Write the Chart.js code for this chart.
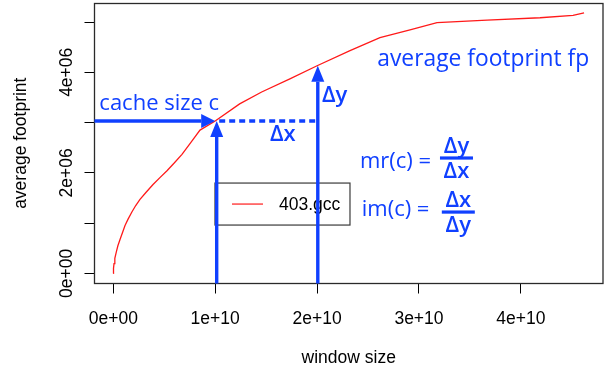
<!DOCTYPE html>
<html>
<head>
<meta charset="utf-8">
<script src="https://cdn.jsdelivr.net/npm/chart.js@4.4.1/dist/chart.umd.min.js"></script>
<style>
  html, body { margin: 0; padding: 0; background: #ffffff; }
  canvas { display: block; }
</style>
</head>
<body>
<canvas id="chart" width="613" height="375"></canvas>
<script>
// Average footprint of 403.gcc as a function of the window size
const windowSizes = [0, 0.002e10, 0.007e10, 0.015e10, 0.031e10, 0.045e10, 0.066e10, 0.088e10,
  0.115e10, 0.145e10, 0.181e10, 0.22e10, 0.262e10, 0.32e10, 0.39e10, 0.46e10,
  0.527e10, 0.6e10, 0.674e10, 0.76e10, 0.851e10, 1.0e10, 1.24e10, 1.456e10, 1.733e10, 2.0e10,
  2.323e10, 2.617e10, 2.912e10, 3.177e10, 3.668e10, 4.188e10, 4.512e10, 4.62e10];
const footprints = [0, 0.1e6, 0.193e6, 0.3e6, 0.439e6, 0.55e6, 0.675e6, 0.8e6,
  0.951e6, 1.08e6, 1.217e6, 1.35e6, 1.472e6, 1.61e6, 1.768e6, 1.91e6,
  2.043e6, 2.2e6, 2.368e6, 2.6e6, 2.85e6, 3.03e6, 3.372e6, 3.608e6, 3.87e6, 4.13e6,
  4.429e6, 4.691e6, 4.843e6, 4.986e6, 5.039e6, 5.085e6, 5.13e6, 5.183e6];

// Axis ticks and their labels
const xTicks = [0, 1e10, 2e10, 3e10, 4e10];
const xTickLabels = ['0e+00', '1e+10', '2e+10', '3e+10', '4e+10'];
const yTicks = [0, 1e6, 2e6, 3e6, 4e6, 5e6];
const yTickLabels = ['0e+00', '', '2e+06', '', '4e+06', ''];

// Cache size c and the next window size used for the slope construction
const cacheSize = 1e10;
const cacheFootprint = 3.03e6;
const nextWindow = 2e10;
const nextFootprint = 4.13e6;

const seriesName = '403.gcc';

const BLUE = '#1040ff';
const AXIS_FONT = { family: "'Liberation Sans', Arial, Helvetica, sans-serif", size: 17.5 };
const NOTE_FONT = "'Comic Sans MS', 'Open Sans', sans-serif";

const points = windowSizes.map((w, i) => ({ x: w, y: footprints[i] }));

function drawArrow(ctx, x1, y1, x2, y2, len, half) {
  const ang = Math.atan2(y2 - y1, x2 - x1);
  const bx = x2 - len * Math.cos(ang);
  const by = y2 - len * Math.sin(ang);
  ctx.beginPath();
  ctx.moveTo(x1, y1);
  ctx.lineTo(bx, by);
  ctx.stroke();
  ctx.beginPath();
  ctx.moveTo(x2, y2);
  ctx.lineTo(bx + half * Math.sin(ang), by - half * Math.cos(ang));
  ctx.lineTo(bx - half * Math.sin(ang), by + half * Math.cos(ang));
  ctx.closePath();
  ctx.fill();
}

function drawFraction(ctx, cx, barY, num, den, barW) {
  ctx.fillRect(cx - barW / 2, barY - 1.6, barW, 3.2);
  ctx.textAlign = 'center';
  ctx.textBaseline = 'alphabetic';
  ctx.fillText(num, cx, barY - 5);
  ctx.fillText(den, cx, barY + 20);
}

const plotFrame = {
  id: 'plotFrame',
  afterDraw(chart) {
    const { ctx, chartArea: a, scales: { x, y } } = chart;
    const px = v => x.getPixelForValue(v);
    const py = v => y.getPixelForValue(v);
    ctx.save();

    // box around the plotting region
    ctx.strokeStyle = '#2a2a2a';
    ctx.lineWidth = 1.3;
    ctx.strokeRect(a.left, a.top + 0.6, a.right - a.left, a.bottom - a.top - 0.6);

    // legend
    const lx = px(0.998e10), ly = py(1.797e6);
    ctx.fillStyle = '#ffffff';
    ctx.fillRect(lx, ly, 135, 42);
    ctx.strokeStyle = '#3a3a3a';
    ctx.lineWidth = 1.2;
    ctx.strokeRect(lx, ly, 135, 42);
    const ds = chart.data.datasets[0];
    ctx.strokeStyle = ds.borderColor;
    ctx.lineWidth = 1.2;
    ctx.beginPath();
    ctx.moveTo(lx + 17, ly + 21);
    ctx.lineTo(lx + 48, ly + 21);
    ctx.stroke();
    ctx.fillStyle = '#000000';
    ctx.font = `${AXIS_FONT.size}px ${AXIS_FONT.family}`;
    ctx.textAlign = 'left';
    ctx.textBaseline = 'middle';
    ctx.fillText(ds.label, lx + 64, ly + 22);

    // slope construction
    ctx.strokeStyle = BLUE;
    ctx.fillStyle = BLUE;
    ctx.lineWidth = 3.4;
    ctx.lineCap = 'butt';
    const cX = px(cacheSize), cY = py(cacheFootprint);
    const nX = px(nextWindow), nY = py(nextFootprint);
    drawArrow(ctx, a.left, cY, cX, cY, 14, 7);
    drawArrow(ctx, cX + 1.5, a.bottom, cX + 1.5, cY, 16, 6.5);
    drawArrow(ctx, nX + 0.7, a.bottom, nX + 0.7, nY, 16, 6.5);
    ctx.setLineDash([6, 4]);
    ctx.beginPath();
    ctx.moveTo(cX + 4, cY);
    ctx.lineTo(nX, cY);
    ctx.stroke();
    ctx.setLineDash([]);

    // notes
    ctx.textAlign = 'left';
    ctx.textBaseline = 'alphabetic';
    ctx.font = `22px ${NOTE_FONT}`;
    ctx.fillText('cache size c', px(-0.137e10), py(3.248e6));
    ctx.font = `22.8px ${NOTE_FONT}`;
    ctx.fillText('average footprint fp', px(2.591e10), py(4.134e6));
    ctx.font = `22px ${NOTE_FONT}`;
    ctx.fillText('mr(c) =', px(2.421e10), py(2.098e6));
    ctx.fillText('im(c) =', px(2.438e10), py(1.148e6));
    ctx.font = `600 22px ${NOTE_FONT}`;
    ctx.fillText('\u0394y', px(2.048e10), py(3.411e6));
    ctx.fillText('\u0394x', px(1.538e10), py(2.624e6));
    drawFraction(ctx, px(3.368e10), py(2.295e6), '\u0394y', '\u0394x', 33);
    drawFraction(ctx, px(3.386e10), py(1.22e6), '\u0394x', '\u0394y', 33);

    ctx.restore();
  }
};

new Chart(document.getElementById('chart'), {
  type: 'line',
  data: {
    datasets: [{
      label: seriesName,
      data: points,
      borderColor: '#ff1a1a',
      borderWidth: 1.3,
      pointRadius: 0,
      tension: 0,
      fill: false
    }]
  },
  options: {
    responsive: false,
    animation: false,
    events: [],
    layout: { padding: { top: 0, right: 10, bottom: 0, left: 0 } },
    plugins: { legend: { display: false }, tooltip: { enabled: false }, title: { display: false } },
    scales: {
      x: {
        type: 'linear',
        min: -0.1845e10,
        max: 4.806e10,
        afterBuildTicks: s => { s.ticks = xTicks.map(v => ({ value: v })); },
        afterFit: s => { s.height = 91.5; },
        grid: { drawOnChartArea: false, drawTicks: true, tickLength: 10, color: '#000000', lineWidth: 1 },
        border: { display: false },
        ticks: {
          autoSkip: false, maxRotation: 0, minRotation: 0, padding: 15,
          color: '#000000', font: AXIS_FONT,
          callback: (v, i) => xTickLabels[i]
        },
        title: { display: true, text: 'window size', color: '#000000', font: AXIS_FONT, padding: { top: 0, bottom: 6.5 } }
      },
      y: {
        type: 'linear',
        min: -0.2008e6,
        max: 5.38e6,
        afterBuildTicks: s => { s.ticks = yTicks.map(v => ({ value: v })); },
        afterFit: s => { s.width = 94.5; },
        grid: { drawOnChartArea: false, drawTicks: true, tickLength: 10, color: '#000000', lineWidth: 1 },
        border: { display: false },
        ticks: {
          autoSkip: false, minRotation: 90, maxRotation: 90, crossAlign: 'center', padding: -7.6,
          color: '#000000', font: AXIS_FONT,
          callback: (v, i) => yTickLabels[i]
        },
        title: { display: true, text: 'average footprint', color: '#000000', font: AXIS_FONT, padding: { top: 10.5, bottom: 0 } }
      }
    }
  },
  plugins: [plotFrame]
});
</script>
</body>
</html>
